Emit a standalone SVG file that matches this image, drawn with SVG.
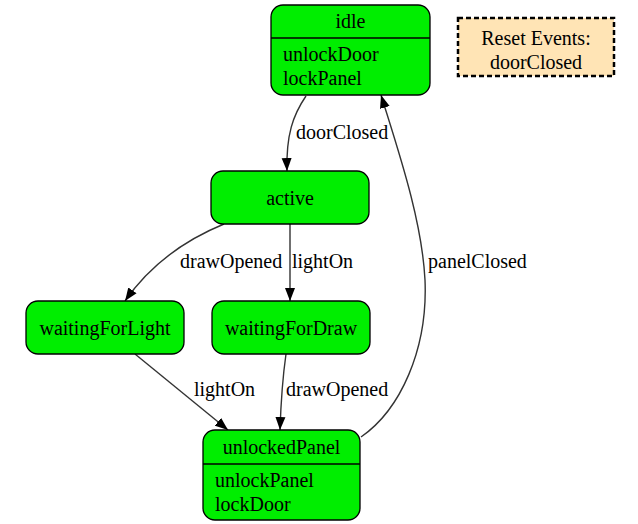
<svg xmlns="http://www.w3.org/2000/svg" width="638" height="524" viewBox="0 0 638 524" font-family="'Liberation Serif', 'Times New Roman', serif">
<style>
.node rect{fill:#00ee00;stroke:#000;stroke-width:1.3}
.t{font-family:'Liberation Serif','Times New Roman',serif;font-size:20px;fill:#000}
.c{text-anchor:middle}
.edge{fill:none;stroke:#333;stroke-width:1.4}
.div{stroke:#000;stroke-width:1.3}
</style>
<defs>
<marker id="ah" markerUnits="userSpaceOnUse" markerWidth="14" markerHeight="11" refX="13" refY="5.5" orient="auto">
<path d="M0,0.5 L13,5.5 L0,10.5 Z" fill="#000"/>
</marker>
</defs>
<rect width="638" height="524" fill="#fff"/>
<g id="edges">
<path class="edge" d="M306,96 C293,115 286,135 287,171" marker-end="url(#ah)"/>
<path class="edge" d="M361,437 C400,410 428,350 425,280 C422,220 398,150 381,95" marker-end="url(#ah)"/>
<path class="edge" d="M224,224 C180,242 148,268 125,301" marker-end="url(#ah)"/>
<path class="edge" d="M290,224 L290,301" marker-end="url(#ah)"/>
<path class="edge" d="M135,354 L228,430" marker-end="url(#ah)"/>
<path class="edge" d="M286,354 C283,375 281,400 280,430" marker-end="url(#ah)"/>
<text class="t" x="296" y="139">doorClosed</text>
<text class="t" x="428" y="268">panelClosed</text>
<text class="t" x="180" y="268">drawOpened</text>
<text class="t" x="292" y="268">lightOn</text>
<text class="t" x="194" y="396">lightOn</text>
<text class="t" x="286" y="396">drawOpened</text>
</g>
<g id="idle" class="node">
<rect x="271" y="5" width="159" height="90" rx="12"/>
<line class="div" x1="271" y1="38" x2="430" y2="38"/>
<text class="t c" x="350.5" y="28">idle</text>
<text class="t" x="283" y="61">unlockDoor</text>
<text class="t" x="283" y="85">lockPanel</text>
</g>
<g id="reset">
<rect x="458" y="18" width="156" height="58" fill="#ffe4b5" stroke="#000" stroke-width="2.5" stroke-dasharray="5,3"/>
<text class="t c" x="536" y="45">Reset Events:</text>
<text class="t c" x="536" y="69">doorClosed</text>
</g>
<g id="active" class="node">
<rect x="211" y="171" width="158" height="53" rx="12"/>
<text class="t c" x="290" y="205">active</text>
</g>
<g id="waitingForLight" class="node">
<rect x="26" y="301" width="158" height="53" rx="12"/>
<text class="t c" x="105" y="335">waitingForLight</text>
</g>
<g id="waitingForDraw" class="node">
<rect x="212" y="301" width="158" height="53" rx="12"/>
<text class="t c" x="291" y="335">waitingForDraw</text>
</g>
<g id="unlockedPanel" class="node">
<rect x="203" y="430" width="157" height="90" rx="12"/>
<line class="div" x1="203" y1="464" x2="360" y2="464"/>
<text class="t c" x="281.5" y="454">unlockedPanel</text>
<text class="t" x="215" y="487">unlockPanel</text>
<text class="t" x="215" y="511">lockDoor</text>
</g>
</svg>
